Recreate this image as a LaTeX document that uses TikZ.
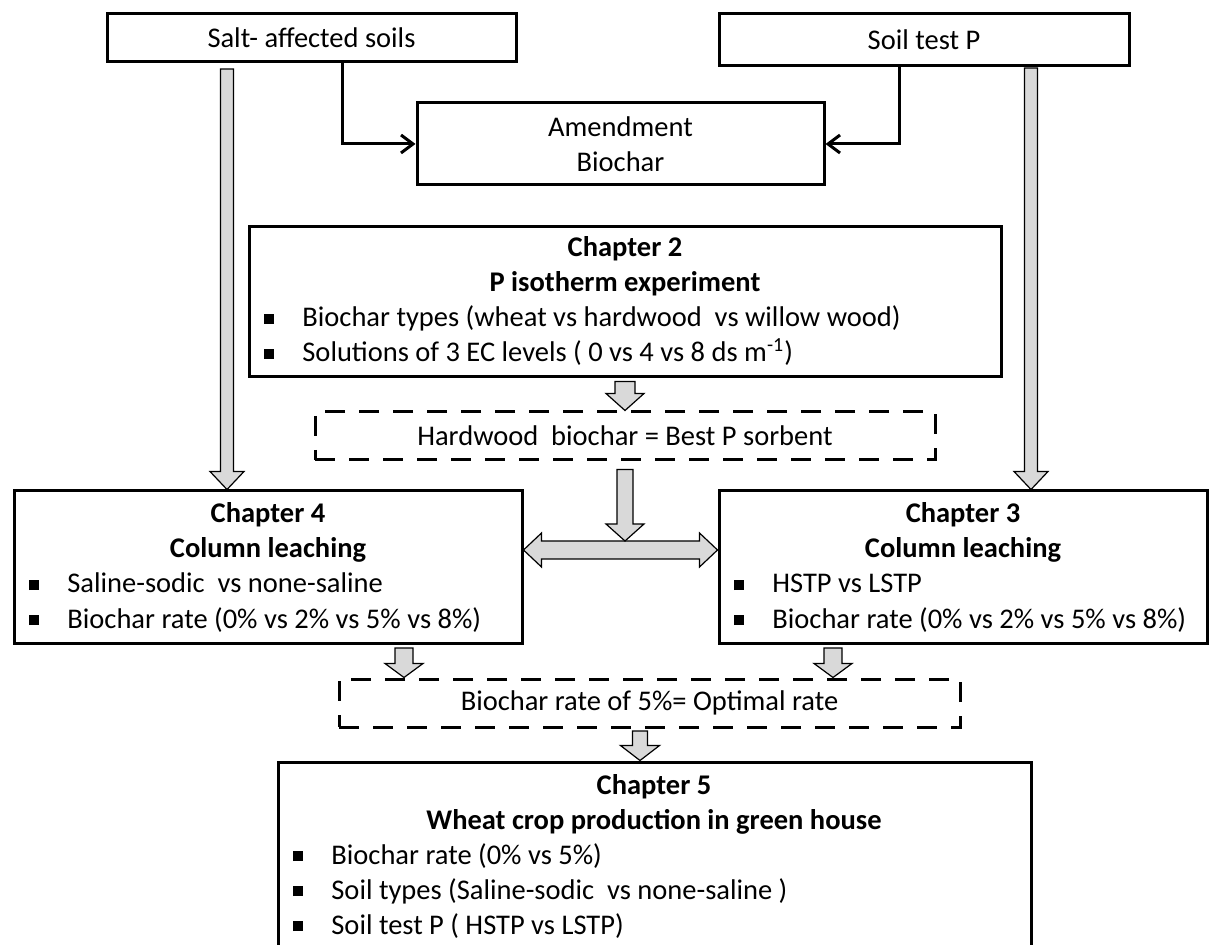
\documentclass[tikz,border=0pt]{standalone}
\usepackage{fontspec}
\setmainfont{Carlito}
\usetikzlibrary{arrows.meta,calc}

\tikzset{
  box/.style={draw, line width=1.5pt, inner sep=0pt, align=center},
  dashbox/.style={box, dash pattern=on 10pt off 7pt},
  txt/.style={inner sep=0pt, text height=10.5pt, text depth=3.5pt},
  head/.style={txt, font=\fontsize{14.25}{17.5}\selectfont\bfseries},
  item/.style={txt, anchor=west},
  link/.style={line width=1.5pt, -{Straight Barb[length=6pt,width=9pt]}},
  fat/.style={draw=black, line width=0.6pt, fill=gray!30, line join=miter},
}
\newcommand{\bul}{\rule[1.5pt]{5pt}{5pt}\hspace{14pt}}
% grey block arrow downwards: start, tip, half shaft, half head, head length
\newcommand{\fatdown}[5]{%
  \draw[fat] ($(#1)+(-#3,0)$) -- ($(#2)+(-#3,-#5)$) -- ($(#2)+(-#4,-#5)$) -- (#2)
    -- ($(#2)+(#4,-#5)$) -- ($(#2)+(#3,-#5)$) -- ($(#1)+(#3,0)$) -- cycle;}

\begin{document}
\begin{tikzpicture}[x=0.5pt, y=-0.5pt,
    every node/.append style={font=\fontsize{14.25}{17.5}\selectfont}]
  \useasboundingbox (0,0) rectangle (1214,945);

  % top row
  \node[box, minimum width=204.5pt, minimum height=24pt] (salt) at (311.5,38) {Salt- affected soils};
  \node[box, minimum width=205pt, minimum height=26pt] (stp) at (924,40) {Soil test P};
  \node[box, minimum width=203.5pt, minimum height=41pt] (amend) at (620.5,144) {Amendment\\Biochar};
  \coordinate (sj) at (342,62);
  \coordinate (pj) at (899,66);
  \draw[link] (sj) |- (amend.west);
  \draw[link] (pj) |- (amend.east);

  % chapter 2
  \node[box, minimum width=376pt, minimum height=75pt] (ch2) at (625,302) {};
  \node[head] (ch2t) at (625,250) {Chapter 2};
  \node[head] (ch2s) at (625,285) {P isotherm experiment};
  \node[item] (ch2a) at (264,320) {\bul Biochar types (wheat vs hardwood\ \ vs willow wood)};
  \node[item] (ch2b) at (264,355) {\bul Solutions of 3 EC levels ( 0 vs 4 vs 8 ds m\textsuperscript{-1})};

  \node[dashbox, minimum width=310pt, minimum height=24pt] (hw) at (625,436) {Hardwood\ \ biochar = Best P sorbent};

  % chapters 4 and 3
  \node[box, minimum width=254pt, minimum height=76pt] (ch4) at (268,567) {};
  \node[head] (ch4t) at (268,516) {Chapter 4};
  \node[head] (ch4s) at (268,551) {Column leaching};
  \node[item] (ch4a) at (29,586) {\bul Saline-sodic\ \ vs none-saline};
  \node[item] (ch4b) at (29,621) {\bul Biochar rate (0\% vs 2\% vs 5\% vs 8\%)};

  \node[box, minimum width=244pt, minimum height=76pt] (ch3) at (963,567) {};
  \node[head] (ch3t) at (963,516) {Chapter 3};
  \node[head] (ch3s) at (963,551) {Column leaching};
  \node[item] (ch3a) at (734,586) {\bul HSTP vs LSTP};
  \node[item] (ch3b) at (734,621) {\bul Biochar rate (0\% vs 2\% vs 5\% vs 8\%)};

  \node[dashbox, minimum width=310.5pt, minimum height=24pt] (rate) at (649.5,703) {Biochar rate of 5\%= Optimal rate};

  % chapter 5
  \node[box, minimum width=376.5pt, minimum height=99pt] (ch5) at (654.5,861) {};
  \node[head] (ch5t) at (654,787) {Chapter 5};
  \node[head] (ch5s) at (654,822) {Wheat crop production in green house};
  \node[item] (ch5a) at (293,857) {\bul Biochar rate (0\% vs 5\%)};
  \node[item] (ch5b) at (293,892) {\bul Soil types (Saline-sodic\ \ vs none-saline )};
  \node[item] (ch5c) at (293,927) {\bul Soil test P ( HSTP vs LSTP)};

  % grey block arrows
  \coordinate (lt) at (227,69);
  \coordinate (rt) at (1031,68);
  \fatdown{lt}{lt |- ch4.north}{6.5}{17}{18}
  \fatdown{rt}{rt |- ch3.north}{6.5}{17}{18}
  \coordinate (a1) at ($(ch2.south)+(0,3)$);
  \fatdown{a1}{hw.north}{10}{19}{17}

  \coordinate (dl) at ($(ch4.east)+(0,-17)$);
  \coordinate (dr) at ($(ch3.west)+(0,-17)$);
  \draw[fat] (dl) -- ++(18,-17) -- ++(0,8) -- ($(dr)+(-18,-9)$) -- ++(0,-8) -- (dr)
    -- ++(-18,17) -- ++(0,-8) -- ($(dl)+(18,9)$) -- ++(0,8) -- cycle;
  \coordinate (dt) at ($(dl)!0.5!(dr)+(0,-9)$);
  \coordinate (a2) at ($(hw.south)+(0,8)$);
  \fatdown{a2}{a2 |- dt}{8}{19}{17}

  \coordinate (a4) at (404,648);
  \coordinate (a3) at (833,648);
  \fatdown{a4}{a4 |- rate.north}{9}{19}{14}
  \fatdown{a3}{a3 |- rate.north}{9}{19}{14}
  \coordinate (a5) at (640,731);
  \fatdown{a5}{a5 |- ch5.north}{7.5}{19.5}{15}
\end{tikzpicture}
\end{document}
